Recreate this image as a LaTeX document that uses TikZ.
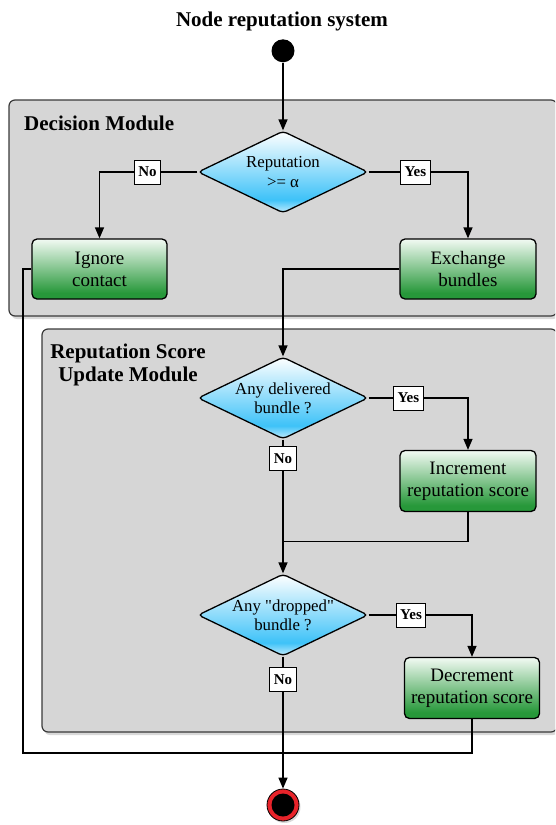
\documentclass[tikz,border=0pt]{standalone}
\usepackage{fontspec}
\setmainfont{Liberation Serif}
\usetikzlibrary{arrows.meta,shapes.geometric,shadows}

\definecolor{modfill}{HTML}{D6D6D6}
\definecolor{modline}{HTML}{3A3A3A}
\definecolor{gdark}{HTML}{27983A}
\definecolor{glight}{HTML}{F2FAF3}
\definecolor{bcyan}{HTML}{3EC2F8}
\definecolor{ringred}{HTML}{E8232A}

\pgfdeclareverticalshading{greenshade}{100bp}{color(0bp)=(gdark); color(25bp)=(gdark); color(30bp)=(gdark); color(75bp)=(glight); color(100bp)=(glight)}
\pgfdeclareverticalshading{blueshade}{100bp}{color(0bp)=(bcyan!30!white); color(25bp)=(bcyan!30!white); color(33bp)=(bcyan); color(75bp)=(white); color(100bp)=(white)}

\tikzset{
  module/.style={draw=modline, fill=modfill, line width=1.2pt, rounded corners=6pt,
    drop shadow={opacity=0.3, shadow xshift=2pt, shadow yshift=-3pt}},
  actbox/.style={draw=black, line width=1.3pt, rounded corners=5pt, shade, shading=greenshade,
    minimum width=135pt, minimum height=60pt, align=center,
    font=\fontsize{19}{22}\selectfont, inner sep=0pt},
  decis/.style={diamond, draw=black, line width=1.3pt, rounded corners=4pt, shade, shading=blueshade,
    minimum width=170pt, minimum height=82pt, aspect=2.07, inner sep=0pt, align=center,
    font=\fontsize{16.8}{19.2}\selectfont},
  lbl/.style={draw=black, fill=white, line width=0.8pt, font=\bfseries\fontsize{15}{18}\selectfont,
    inner xsep=4pt, inner ysep=0pt, minimum height=24pt},
  flow/.style={line width=1.3pt, draw=black},
  arr/.style={flow, -{Triangle[width=9pt,length=11pt]}},
  ttl/.style={font=\bfseries\fontsize{21}{23.5}\selectfont, align=center, inner sep=0pt},
}

\begin{document}
\begin{tikzpicture}[x=1pt, y=-1pt]
\clip (0,0) rectangle (555,825);

% modules
\path[module] (9,100) rectangle (557,316);
\path[module] (42,329) rectangle (557,732);

% titles
\node[ttl, anchor=base] (title) at (282,26) {Node reputation system};
\node[ttl, anchor=base west] (m1t) at (24,130) {Decision Module};
\node[ttl, anchor=north] (m2t) at (128,343.5) {Reputation Score\\Update Module};

% nodes
\node[circle, fill=black, minimum size=23pt, inner sep=0pt] (start) at (283,50.8) {};
\node[decis] (d1) at (283,172) {Reputation\\>= α};
\node[actbox] (ign) at (99.5,269) {Ignore\\contact};
\node[actbox, minimum width=136pt] (exc) at (468,269) {Exchange\\bundles};
\node[decis] (d2) at (283,398) {Any delivered\\bundle ?};
\node[actbox, minimum width=136pt, minimum height=61pt] (inc) at (468,481) {Increment\\reputation score};
\node[decis] (d3) at (283,615) {Any \textquotedbl dropped\textquotedbl\\bundle ?};
\node[actbox, minimum height=61pt] (dec) at (472,688) {Decrement\\reputation score};
\node[circle, fill=ringred, draw=black, line width=0.8pt, minimum size=32pt, inner sep=0pt,
  drop shadow={opacity=0.3, shadow xshift=1.5pt, shadow yshift=-2pt},
  path picture={\fill[black] (path picture bounding box.center) circle (11.5pt);}] (end) at (283,805) {};

\coordinate (j1) at (283,541.7);
\coordinate (jb) at (283,753);
\coordinate (lft) at (23,753);

% connectors
\draw[arr] (start) -- (d1);
\draw[arr] (d1.west) -| node[lbl, pos=0.255] (no1) {No} (ign.north);
\draw[arr] (d1.east) -| node[lbl, pos=0.235] (yes1) {Yes} (exc.north);
\draw[arr] (exc.west) -| (d2.north);
\draw[arr] (d2.east) -| node[lbl, pos=0.2] (yes2) {Yes} (inc.north);
\draw[flow] (d2.south) -- node[lbl, pos=0.185] (no2) {No} (j1);
\draw[flow] (inc.south) |- (j1);
\draw[arr] (j1) -- (d3.north);
\draw[arr] (d3.east) -| node[lbl, pos=0.205] (yes3) {Yes} (dec.north);
\draw[flow] (ign.west) -| (lft) -- (jb);
\draw[flow] (dec.south) |- (jb);
\draw[arr] (d3.south) -- node[lbl, pos=0.175] (no3) {No} (end.north);
\end{tikzpicture}
\end{document}
